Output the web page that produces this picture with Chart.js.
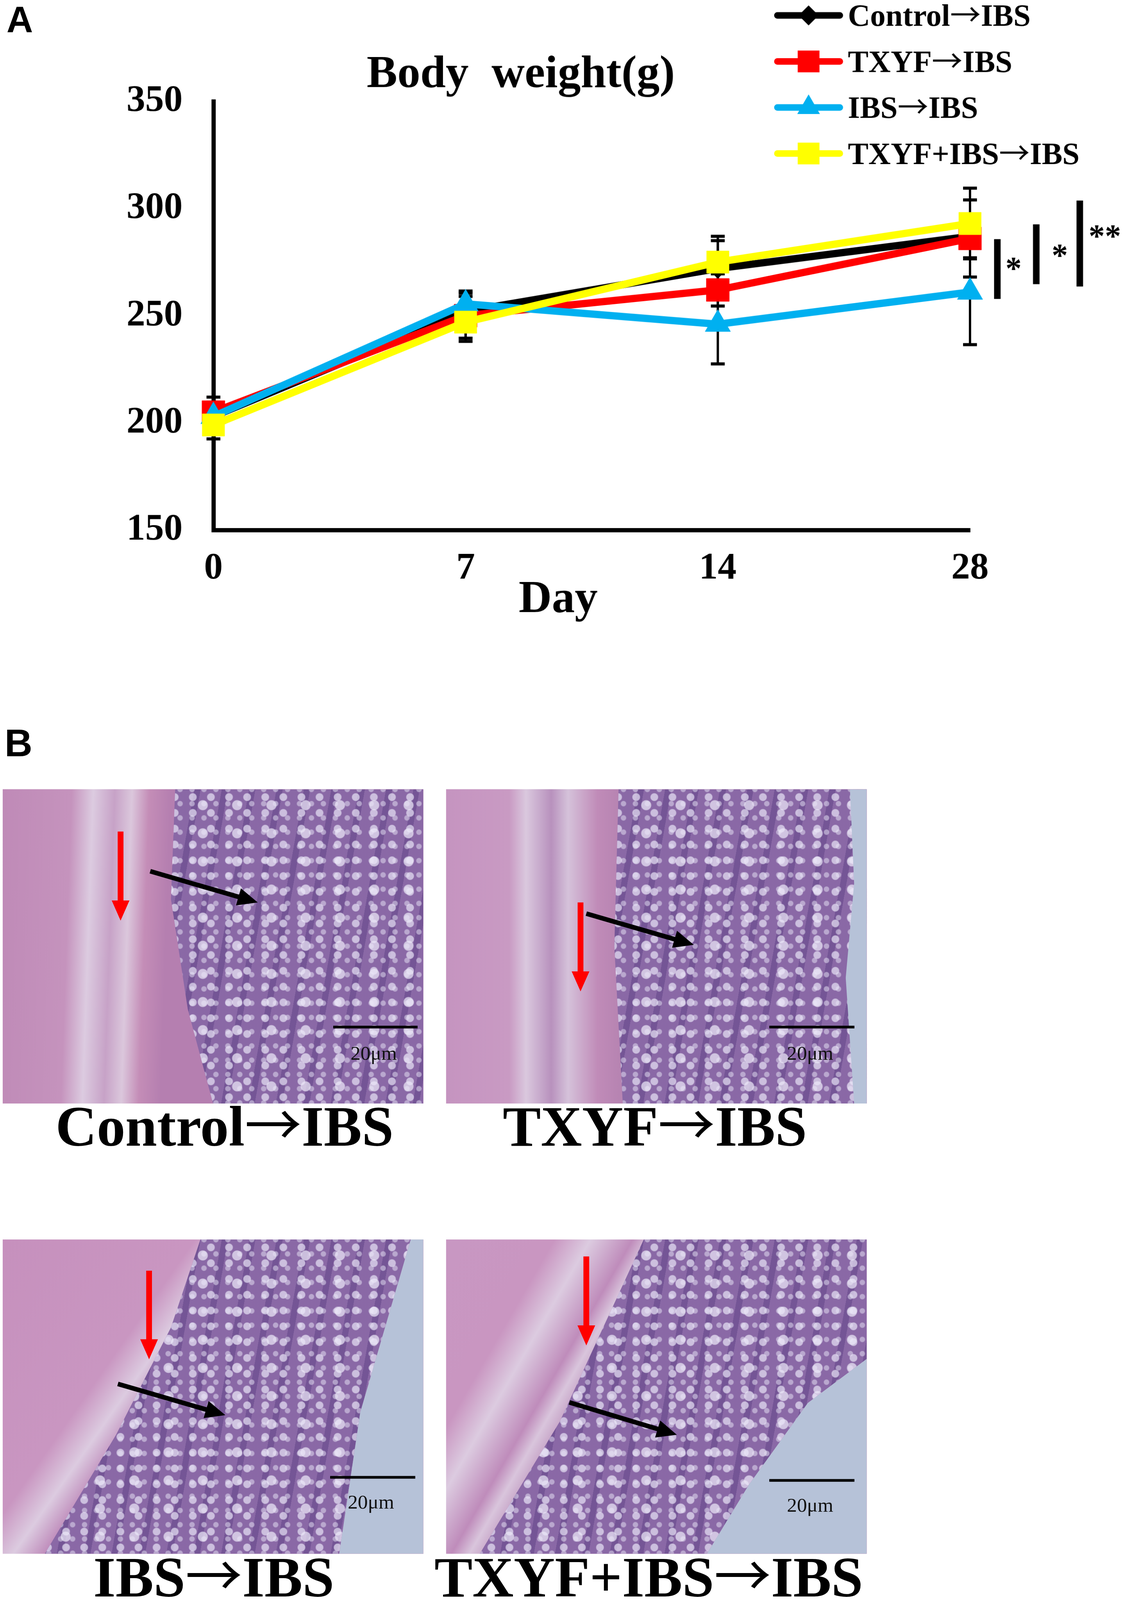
<!DOCTYPE html>
<html>
<head>
<meta charset="utf-8">
<script src="https://cdn.jsdelivr.net/npm/chart.js@4.4.1/dist/chart.umd.min.js"></script>
<style>
  html, body { margin: 0; padding: 0; background: #fff; overflow: hidden; }
  #page { width: 2918px; height: 4154px; position: relative; overflow: hidden; transform-origin: 0 0;
    font-family: "Liberation Serif", "Times New Roman", serif; background: #fff; }
  #chartA { position: absolute; left: 0; top: 0; }
  .letter { position: absolute; font-family: "Liberation Sans", Arial, sans-serif; font-weight: bold; line-height: 1; }
  .micro { position: absolute; width: 1092px; height: 816px; overflow: hidden; }
  .micro .crypt { position: absolute; inset: 0;
    background-color: #8565a3;
    background-image:
      radial-gradient(circle, rgba(236,232,248,0.72) 0 12px, rgba(236,232,248,0) 14px),
      radial-gradient(circle, rgba(232,228,246,0.7) 0 9px, rgba(232,228,246,0) 11px),
      radial-gradient(circle, rgba(225,220,240,0.55) 0 6px, rgba(225,220,240,0) 8px),
      repeating-linear-gradient(100deg, rgba(85,55,125,0.35) 0 16px, rgba(160,120,180,0.18) 16px 70px);
    background-size: 89px 73px, 47px 41px, 31px 37px, auto;
    background-position: 30px 5px, 0 0, 11px 19px, 0 0; }
  .micro .glass { position: absolute; inset: 0; background: #b6c2d8; }
  .caption { position: absolute; font-weight: bold; font-size: 148px; line-height: 1; white-space: nowrap; transform: translateX(-50%); }
  .arr { font-family: "Noto Sans CJK SC", sans-serif; font-weight: normal; line-height: 0; }
  .bar { position: absolute; height: 7px; background: #000; }
  .bartext { position: absolute; font-size: 52px; line-height: 1; white-space: nowrap; transform: translateX(-50%); color: #111; }
  #marks { position: absolute; left: 0; top: 0; }
</style>
</head>
<body>
<div id="page">
<canvas id="chartA" width="2918" height="1700"></canvas>
<div class="letter" style="left:17px; top:4px; font-size:95px;">A</div>
<div class="letter" style="left:12px; top:1878px; font-size:100px;">B</div>

<div class="micro" style="left:7px; top:2049px; background: linear-gradient(92deg, #bf8ab7 0%, #c593bd 16%, #dccbe0 21%, #c7a2c7 26%, #dbc7dc 30%, #c48db7 34%, #b57fb0 39%, #b57fb0 100%);">
  <div class="crypt" style="clip-path: polygon(41% 0, 100% 0, 100% 100%, 50% 100%, 44% 70%, 40% 35%);"></div>
</div>
<div class="micro" style="left:1158px; top:2049px; background: linear-gradient(90deg, #c594c0 0%, #c99ac3 15%, #dac8de 19%, #b891bd 25%, #d5c2da 29%, #c08bb8 36%, #b784b2 41%, #b784b2 100%);">
  <div class="crypt" style="clip-path: polygon(41% 0, 100% 0, 100% 100%, 42% 100%, 40% 50%);"></div>
  <div class="glass" style="clip-path: polygon(96% 0, 100% 0, 100% 100%, 97% 100%, 95% 60%, 97% 30%);"></div>
</div>
<div class="micro" style="left:7px; top:3218px; background: linear-gradient(125deg, #c690bd 0%, #c996c1 30%, #dccbe0 36%, #bf8cbb 41%, #b27fb0 50%, #b27fb0 100%);">
  <div class="crypt" style="clip-path: polygon(47% 0, 97% 0, 85% 55%, 80% 100%, 10% 100%, 27% 62%, 40% 28%);"></div>
  <div class="glass" style="clip-path: polygon(97% 0, 100% 0, 100% 100%, 80% 100%, 85% 55%);"></div>
</div>
<div class="micro" style="left:1158px; top:3218px; background: linear-gradient(120deg, #c897c2 0%, #c996c1 18%, #dccbe0 24%, #bf8cbb 31%, #d9c5dc 34%, #b27fb0 40%, #b27fb0 100%);">
  <div class="crypt" style="clip-path: polygon(47% 0, 100% 0, 100% 38%, 86% 52%, 72% 78%, 62% 100%, 8% 100%, 27% 58%);"></div>
  <div class="glass" style="clip-path: polygon(100% 38%, 100% 100%, 62% 100%, 72% 78%, 86% 52%);"></div>
</div>

<div class="bar" style="left:865px; top:2663px; width:219px;"></div>
<div class="bar" style="left:1997px; top:2663px; width:221px;"></div>
<div class="bar" style="left:857px; top:3832px; width:221px;"></div>
<div class="bar" style="left:1997px; top:3840px; width:221px;"></div>
<div class="bartext" style="left:970px; top:2708px;">20μm</div>
<div class="bartext" style="left:2103px; top:2708px;">20μm</div>
<div class="bartext" style="left:963px; top:3874px;">20μm</div>
<div class="bartext" style="left:2103px; top:3882px;">20μm</div>

<svg id="marks" width="2918" height="4154" xmlns="http://www.w3.org/2000/svg"></svg>

<div class="caption" style="left:583px; top:2851px;">Control<span class="arr">→</span>IBS</div>
<div class="caption" style="left:1700px; top:2851px;">TXYF<span class="arr">→</span>IBS</div>
<div class="caption" style="left:555px; top:4021px;">IBS<span class="arr">→</span>IBS</div>
<div class="caption" style="left:1684px; top:4021px;">TXYF+IBS<span class="arr">→</span>IBS</div>
</div>

<script>
// fit the 2918-wide page into the actual viewport
const fit = Math.min(window.innerWidth / 2918, window.innerHeight / 4154);
if (fit < 1) document.getElementById("page").style.transform = "scale(" + fit + ")";

// ---- data ----
const days = ["0", "7", "14", "28"];
const seriesNames = ["Control→IBS", "TXYF→IBS", "IBS→IBS", "TXYF+IBS→IBS"];
const controlIbs = [203, 252, 272, 287];
const txyfIbs = [205, 250, 262, 286];
const ibsIbs = [203, 255.5, 246, 261];
const txyfPlusIbs = [199, 247, 275, 293];
const controlErr = [6.6, 7, 13, 10];
const txyfErr = [7, 10.5, 7.5, 18];
const ibsErr = [6.5, 6, 18.5, 24.5];
const txyfPlusErr = [6.5, 9, 12, 16.5];
const yTicks = [150, 200, 250, 300, 350];
const sigLow = [257.8, 264.7, 263.6];
const sigHigh = [285.7, 292.6, 303.7];
const sigStarY = [274, 280, 289];
const sigMarks = ["*", "*", "**"];

const colors = ["#000000", "#ff0000", "#00b0f0", "#ffff00"];
const styles = ["rectRot", "rect", "triangle", "rect"];
const radii = [26, 42, 38, 41];
const legendRadii = [26, 40, 34, 40];
const values = [controlIbs, txyfIbs, ibsIbs, txyfPlusIbs];
const errors = [controlErr, txyfErr, ibsErr, txyfPlusErr];

const serif = '"Liberation Serif", "Times New Roman", serif';
const arrowFont = '"Noto Sans CJK SC", sans-serif';

// draws text in bold serif, with the arrow taken from the CJK font
function mixedText(ctx, text, x, y, size) {
  const segs = [];
  text.split("→").forEach((p, i, all) => {
    if (p) segs.push({ t: p, f: "bold " + size + "px " + serif });
    if (i < all.length - 1) segs.push({ t: "→", f: size + "px " + arrowFont });
  });
  ctx.textAlign = "left";
  let cx = x;
  segs.forEach(s => {
    ctx.font = s.f;
    ctx.fillText(s.t, cx, y);
    cx += ctx.measureText(s.t).width;
  });
}

const errorBars = {
  id: "errorBars",
  beforeDatasetsDraw(chart) {
    const ctx = chart.ctx;
    const y = chart.scales.y;
    ctx.save();
    ctx.strokeStyle = "#000";
    chart.data.datasets.forEach((ds, i) => {
      const meta = chart.getDatasetMeta(i);
      meta.data.forEach((pt, j) => {
        const top = y.getPixelForValue(ds.data[j] + ds.err[j]);
        const bot = y.getPixelForValue(ds.data[j] - ds.err[j]);
        ctx.lineWidth = 6;
        ctx.beginPath();
        ctx.moveTo(pt.x, top);
        ctx.lineTo(pt.x, bot);
        ctx.stroke();
        ctx.lineWidth = 8;
        ctx.beginPath();
        ctx.moveTo(pt.x - 18, top);
        ctx.lineTo(pt.x + 18, top);
        ctx.moveTo(pt.x - 18, bot);
        ctx.lineTo(pt.x + 18, bot);
        ctx.stroke();
      });
    });
    ctx.restore();
  }
};

const decorations = {
  id: "decorations",
  afterDraw(chart) {
    const ctx = chart.ctx;
    const y = chart.scales.y;
    const x = chart.scales.x;
    ctx.save();
    ctx.fillStyle = "#000";
    ctx.textBaseline = "alphabetic";

    // title and axis title
    ctx.font = "bold 119px " + serif;
    ctx.textAlign = "center";
    ctx.fillText("Body  weight(g)", 1352, 226);
    ctx.fillText("Day", 1449, 1589);

    // legend
    chart.data.datasets.forEach((ds, i) => {
      const rowY = 40 + i * 119.5;
      ctx.strokeStyle = ds.borderColor;
      ctx.lineWidth = 17;
      ctx.lineCap = "round";
      ctx.beginPath();
      ctx.moveTo(2018, rowY);
      ctx.lineTo(2180, rowY);
      ctx.stroke();
      ctx.fillStyle = ds.borderColor;
      Chart.helpers.drawPoint(ctx, { pointStyle: ds.pointStyle, radius: legendRadii[i], rotation: 0, borderWidth: 0 }, 2099, rowY);
      ctx.fillStyle = "#000";
      mixedText(ctx, ds.label, 2201, rowY + 27, 80);
    });

    // significance bars
    const x28 = x.getPixelForValue(days.length - 1);
    const lineOff = [71, 172, 285];
    const starOff = [113, 233, 350];
    ctx.fillStyle = "#000";
    sigLow.forEach((lo, k) => {
      const top = y.getPixelForValue(sigHigh[k]);
      const bot = y.getPixelForValue(lo);
      ctx.fillRect(x28 + lineOff[k] - 8.5, top, 17, bot - top);
      ctx.font = "bold 84px " + serif;
      ctx.textAlign = "center";
      ctx.textBaseline = "middle";
      ctx.fillText(sigMarks[k], x28 + starOff[k], y.getPixelForValue(sigStarY[k]) + 17);
    });
    ctx.restore();
  }
};

const tickFont = { family: serif, size: 97, weight: "bold" };

new Chart(document.getElementById("chartA"), {
  type: "line",
  data: {
    labels: days,
    datasets: seriesNames.map((name, i) => ({
      label: name,
      data: values[i],
      err: errors[i],
      borderColor: colors[i],
      backgroundColor: colors[i],
      pointBackgroundColor: colors[i],
      pointBorderColor: colors[i],
      pointBorderWidth: 1,
      pointStyle: styles[i],
      pointRadius: radii[i],
      borderWidth: 19,
      tension: 0,
      clip: false,
      order: 4 - i,
    })),
  },
  options: {
    responsive: false,
    animation: false,
    devicePixelRatio: 1,
    layout: { padding: { top: 263, right: 400, bottom: 0, left: 0 } },
    plugins: {
      legend: { display: false },
      title: { display: false },
      tooltip: { enabled: false },
    },
    scales: {
      x: {
        type: "category",
        offset: false,
        grid: { display: false, drawTicks: false },
        border: { display: true, color: "#000", width: 11 },
        ticks: { color: "#000", font: tickFont, padding: 43, maxRotation: 0 },
        afterFit(scale) { scale.height = 324; },
      },
      y: {
        min: 150,
        max: 350,
        grid: { display: false, drawTicks: false },
        border: { display: true, color: "#000", width: 11 },
        ticks: { color: "#000", font: tickFont, padding: 80 },
        afterBuildTicks(scale) { scale.ticks = yTicks.map(v => ({ value: v })); },
        afterFit(scale) { scale.width = 554; },
      },
    },
  },
  plugins: [errorBars, decorations],
});

// ---- arrows on panel B ----
const arrows = [
  { c: "#ff0000", w: 15, x1: 313, y1: 2159, x2: 313, y2: 2390 },
  { c: "#000000", w: 12, x1: 390, y1: 2262, x2: 669, y2: 2343 },
  { c: "#ff0000", w: 15, x1: 1507, y1: 2343, x2: 1507, y2: 2574 },
  { c: "#000000", w: 12, x1: 1522, y1: 2372, x2: 1801, y2: 2453 },
  { c: "#ff0000", w: 15, x1: 387, y1: 3299, x2: 387, y2: 3529 },
  { c: "#000000", w: 12, x1: 306, y1: 3593, x2: 585, y2: 3674 },
  { c: "#ff0000", w: 15, x1: 1522, y1: 3262, x2: 1522, y2: 3493 },
  { c: "#000000", w: 12, x1: 1478, y1: 3641, x2: 1757, y2: 3725 },
];
const svg = document.getElementById("marks");
const NS = "http://www.w3.org/2000/svg";
arrows.forEach(a => {
  const dx = a.x2 - a.x1, dy = a.y2 - a.y1, len = Math.hypot(dx, dy);
  const ux = dx / len, uy = dy / len, hl = 52, hw = 23;
  const bx = a.x2 - ux * hl, by = a.y2 - uy * hl;
  const line = document.createElementNS(NS, "line");
  line.setAttribute("x1", a.x1); line.setAttribute("y1", a.y1);
  line.setAttribute("x2", bx + ux * 4); line.setAttribute("y2", by + uy * 4);
  line.setAttribute("stroke", a.c); line.setAttribute("stroke-width", a.w);
  svg.appendChild(line);
  const head = document.createElementNS(NS, "polygon");
  head.setAttribute("points", `${a.x2},${a.y2} ${bx - uy * hw},${by + ux * hw} ${bx + uy * hw},${by - ux * hw}`);
  head.setAttribute("fill", a.c);
  svg.appendChild(head);
});
</script>
</body>
</html>
